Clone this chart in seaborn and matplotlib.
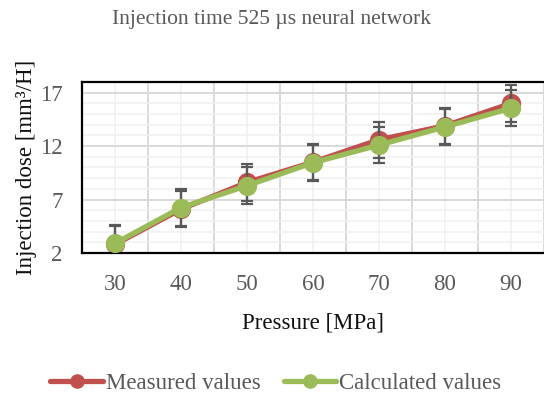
import matplotlib
matplotlib.use("Agg")
import matplotlib.pyplot as plt
from matplotlib.ticker import MultipleLocator, FixedLocator
from matplotlib.lines import Line2D
import numpy as np
import pandas as pd
import seaborn as sns

# Chart data
pressure = [30, 40, 50, 60, 70, 80, 90]
measured = [2.8, 6.1, 8.6, 10.5, 12.6, 13.9, 16.0]
calculated = [2.9, 6.25, 8.3, 10.45, 12.1, 13.8, 15.55]
err = 1.7
series_names = ["Measured values", "Calculated values"]
colors = {"Measured values": "#C0504D", "Calculated values": "#9BBB59"}

df = pd.DataFrame({
    "Pressure": pressure * 2,
    "Dose": measured + calculated,
    "Series": [series_names[0]] * len(pressure) + [series_names[1]] * len(pressure),
})

sns.set_theme(style="white")
plt.rcParams["font.family"] = ["Liberation Serif", "DejaVu Serif"]

fig = plt.figure(figsize=(5.44, 3.98), dpi=100)
ax = fig.add_axes([0.1507, 0.3643, 0.8493, 0.4297])

sns.pointplot(data=df, x="Pressure", y="Dose", hue="Series", hue_order=series_names,
              palette=colors, errorbar=None, markers="o", linestyles="-",
              markersize=11, linewidth=3.8, ax=ax, legend=True)

# error bars behind the lines
xpos = np.arange(len(pressure))
for vals in (measured, calculated):
    ax.errorbar(xpos, vals, yerr=err, fmt="none", ecolor="#595959", elinewidth=1.6,
                capsize=4.5, capthick=1.6, zorder=1)

for coll in ax.collections:
    coll.set_zorder(3)
for ln in ax.lines:
    if ln.get_color() == "#9BBB59":
        ln.set_zorder(4)

ax.set_ylim(2, 18)
ax.set_xlim(-0.5, 6.5)
ax.yaxis.set_major_locator(FixedLocator([2, 7, 12, 17]))
ax.yaxis.set_minor_locator(MultipleLocator(1))
ax.xaxis.set_minor_locator(FixedLocator(np.arange(-0.5, 7, 1.0)))
ax.grid(which="major", axis="y", color="#d9d9d9", linewidth=1.4)
ax.grid(which="minor", axis="y", color="#f0f0f0", linewidth=1.1)
ax.grid(which="minor", axis="x", color="#d9d9d9", linewidth=1.4)
ax.grid(which="major", axis="x", color="#f0f0f0", linewidth=1.1)
ax.set_axisbelow(True)

for side in ("left", "top", "bottom"):
    ax.spines[side].set_color("black")
    ax.spines[side].set_linewidth(1.6)
ax.spines["right"].set_visible(False)

ax.tick_params(axis="both", which="both", length=0, labelsize=16.5, labelcolor="#595959")
ax.tick_params(axis="y", pad=14)
ax.tick_params(axis="x", pad=15)

ax.set_xlabel("Pressure [MPa]", fontsize=16.5, color="#111111", labelpad=13)
ax.set_ylabel("Injection dose [mm³/H]", fontsize=16.5, color="#111111", labelpad=2)

fig.text(0.5, 0.952, "Injection time 525 µs neural network", ha="center", va="center",
         fontsize=15.5, color="#595959")

ax.legend_.remove()
handles = [Line2D([], [], color=colors[n], linewidth=3.8, marker="o", markersize=9.5)
           for n in series_names]
fig.legend(handles, series_names, loc="center", bbox_to_anchor=(0.507, 0.037), ncol=2,
           frameon=False, fontsize=16.5, labelcolor="#595959", handlelength=2.3,
           handletextpad=0.12, columnspacing=1.0)

fig.savefig("out.png", dpi=100)
